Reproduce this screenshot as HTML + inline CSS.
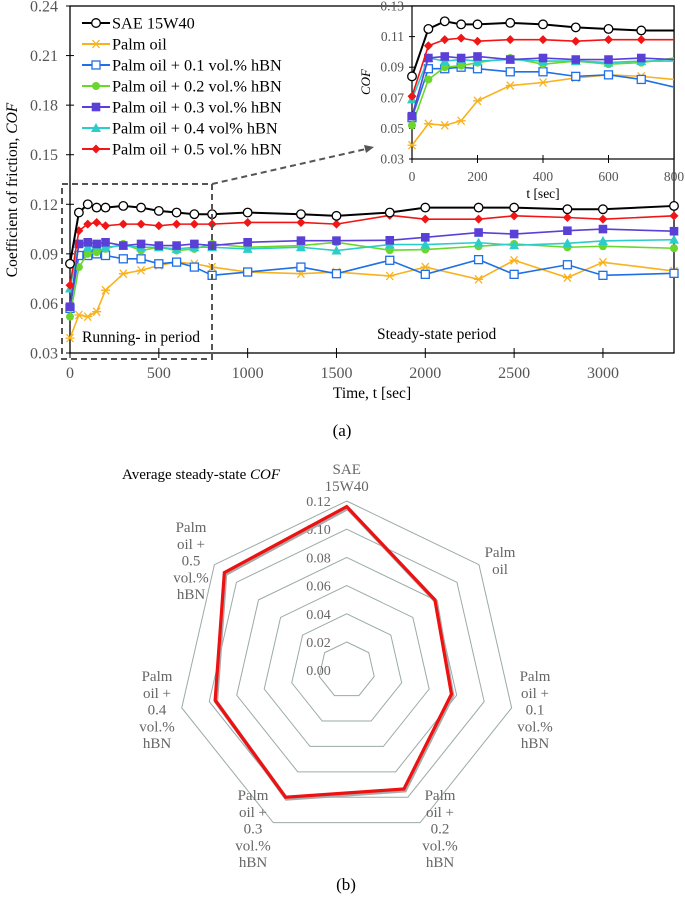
<!DOCTYPE html>
<html><head><meta charset="utf-8"><style>
body{margin:0;background:#fff;}
svg{display:block;font-family:"Liberation Serif",serif;}
</style></head><body>
<svg id="fig" width="685" height="897" viewBox="0 0 685 897"></svg>
<script>
// ---- data (a) ----
const times=[0,50,100,150,200,300,400,500,600,700,800,1000,1300,1500,1800,2000,2300,2500,2800,3000,3400];
const sae=[0.084,0.115,0.120,0.118,0.118,0.119,0.118,0.116,0.115,0.114,0.114,0.115,0.114,0.113,0.115,0.118,0.118,0.118,0.117,0.117,0.119];
const palm=[0.039,0.053,0.052,0.055,0.068,0.078,0.080,0.083,0.085,0.084,0.082,0.079,0.078,0.079,0.0766,0.082,0.0746,0.0861,0.0756,0.0849,0.0796];
const h01=[0.057,0.089,0.089,0.090,0.089,0.087,0.087,0.084,0.085,0.082,0.077,0.079,0.082,0.078,0.0861,0.0776,0.0865,0.0776,0.0834,0.077,0.0782];
const h02=[0.052,0.082,0.090,0.091,0.093,0.096,0.092,0.094,0.092,0.093,0.096,0.094,0.095,0.097,0.0922,0.0926,0.0946,0.096,0.094,0.0946,0.0934];
const h03=[0.058,0.096,0.097,0.096,0.097,0.095,0.096,0.095,0.095,0.096,0.095,0.097,0.098,0.098,0.0982,0.100,0.1029,0.102,0.104,0.105,0.1037];
const h04=[0.069,0.096,0.094,0.095,0.094,0.095,0.094,0.094,0.093,0.094,0.094,0.093,0.094,0.092,0.0956,0.0956,0.0968,0.0952,0.0964,0.0978,0.0986];
const h05=[0.071,0.104,0.108,0.109,0.107,0.108,0.108,0.107,0.108,0.108,0.108,0.109,0.109,0.108,0.1133,0.111,0.111,0.113,0.112,0.111,0.113];
const seriesNames=["SAE 15W40","Palm oil","Palm oil + 0.1 vol.% hBN","Palm oil + 0.2 vol.% hBN","Palm oil + 0.3 vol.% hBN","Palm oil + 0.4 vol% hBN","Palm oil + 0.5 vol.% hBN"];
const yTicks=[0.03,0.06,0.09,0.12,0.15,0.18,0.21,0.24];
const xTicks=[0,500,1000,1500,2000,2500,3000];
const inYTicks=[0.03,0.05,0.07,0.09,0.11,0.13];
const inXTicks=[0,200,400,600,800];
// ---- data (b) ----
const radarCats=[["SAE","15W40"],["Palm","oil"],["Palm","oil +","0.1","vol.%","hBN"],["Palm","oil +","0.2","vol.%","hBN"],["Palm","oil +","0.3","vol.%","hBN"],["Palm","oil +","0.4","vol.%","hBN"],["Palm","oil +","0.5","vol.%","hBN"]];
const radarVals=[0.116,0.080,0.0762,0.0935,0.100,0.0957,0.111];
const radarTicks=[0.00,0.02,0.04,0.06,0.08,0.10,0.12];

const NS="http://www.w3.org/2000/svg";
const svg=document.getElementById('fig');
function el(tag,attrs,parent,text){const e=document.createElementNS(NS,tag);for(const k in attrs)e.setAttribute(k,attrs[k]);if(text!==undefined)e.textContent=text;(parent||svg).appendChild(e);return e;}

const colors=["#000000","#f9b21b","#1f6fe6","#6bd62b","#5a40d6","#2ccdc8","#f21515"];
const markers=["circle","star","sqopen","dot","square","tri","diamond"];
const all=[sae,palm,h01,h02,h03,h04,h05];

function marker(g,type,x,y,c){
  let m;
  if(type==="circle") m=el('circle',{cx:x,cy:y,r:4.3,fill:'#fff',stroke:c,'stroke-width':1.3},g);
  else if(type==="dot") m=el('circle',{cx:x,cy:y,r:4,fill:c},g);
  else if(type==="sqopen") m=el('rect',{x:x-4,y:y-4,width:8,height:8,fill:'#fff',stroke:c,'stroke-width':1.3},g);
  else if(type==="square") m=el('rect',{x:x-4.3,y:y-4.3,width:8.6,height:8.6,fill:c},g);
  else if(type==="tri") m=el('path',{d:`M${x},${y-5}L${x+5},${y+4}L${x-5},${y+4}Z`,fill:c},g);
  else if(type==="diamond") m=el('path',{d:`M${x},${y-4.5}L${x+4.5},${y}L${x},${y+4.5}L${x-4.5},${y}Z`,fill:c},g);
  else if(type==="star") m=el('path',{d:`M${x-4.5},${y}H${x+4.5}M${x-3.5},${y-4}L${x+3.5},${y+4}M${x+3.5},${y-4}L${x-3.5},${y+4}`,stroke:c,'stroke-width':1.3,fill:'none'},g);
  
  
}

// ---- main chart ----
const X0=70,X1=674,Y0=353,Y1=6;
const sx=t=>X0+(t-0)/(3400-0)*(X1-X0);
const sy=v=>Y0-(v-0.03)/(0.24-0.03)*(Y0-Y1);
const main=el('g',{});
el('rect',{x:X0,y:Y1,width:X1-X0,height:Y0-Y1,fill:'none',stroke:'#000','stroke-width':1.3,},main);
const yt=el('g',{},main);
yTicks.forEach(v=>{el('line',{x1:X0-4,x2:X0+4,y1:sy(v),y2:sy(v),stroke:'#000'},yt);
  el('text',{x:X0-12,y:sy(v)+5.5,'text-anchor':'end','font-size':16,fill:'#555',},yt,v.toFixed(2));});
const xt=el('g',{},main);
xTicks.forEach(v=>{el('line',{x1:sx(v),x2:sx(v),y1:Y0-5,y2:Y0+5,stroke:'#000'},xt);
  el('text',{x:sx(v),y:378,'text-anchor':'middle','font-size':16,fill:'#555',},xt,String(v));});
el('text',{x:372,y:398,'text-anchor':'middle','font-size':15.5,fill:'#000',},main,'Time,  t [sec]');
const yTitle=el('text',{x:0,y:0,transform:'translate(17,190) rotate(-90)','text-anchor':'middle','font-size':15.5,fill:'#000',},main,'Coefficient  of friction,  ');
el('tspan',{'font-style':'italic'},yTitle,'COF');

function drawSeries(g,xs,ys,c,mk,fx,fy,maxT){
  const pts=[];xs.forEach((t,i)=>{if(t<=maxT)pts.push([fx(t),fy(ys[i])]);});
  el('polyline',{points:pts.map(p=>p.join(',')).join(' '),fill:'none',stroke:c,'stroke-width':mk==="circle"?2:1.6,},g);
  pts.forEach(p=>marker(g,mk,p[0],p[1],c));
}
const sg=el('g',{},main);
[1,2,3,5,4,6,0].forEach(i=>drawSeries(sg,times,all[i],colors[i],markers[i],sx,sy,3400));

// legend
const lg=el('g',{},main);
seriesNames.forEach((n,i)=>{const y=23+i*21;
  const e=el('g',{},lg);
  el('line',{x1:82,x2:110,y1:y,y2:y,stroke:colors[i],'stroke-width':2},e);
  marker(e,markers[i],96,y,colors[i]);
  el('text',{x:112,y:y+5.5,'font-size':16.3,fill:'#000'},e,n);});

// dashed region & arrow
el('rect',{x:62,y:184,width:150,height:175,fill:'none',stroke:'#555','stroke-width':2,'stroke-dasharray':'6,4',},main);
el('line',{x1:212,y1:184,x2:366,y2:149,stroke:'#555','stroke-width':2,'stroke-dasharray':'6,4',},main);
el('path',{d:'M374,147 L364,145 L366,153 Z',fill:'#555',},main);
el('text',{x:82,y:342,'font-size':15.5,fill:'#000',},main,'Running- in  period');
el('text',{x:377,y:339,'font-size':15.5,fill:'#000',},main,'Steady-state  period');
el('text',{x:342,y:436,'text-anchor':'middle','font-size':17,fill:'#000',},svg,'(a)');

// ---- inset ----
const IX0=412,IX1=674,IY0=159,IY1=6;
const ix=t=>IX0+t/800*(IX1-IX0);
const iy=v=>IY0-(v-0.03)/(0.13-0.03)*(IY0-IY1);
const ins=el('g',{});
el('rect',{x:IX0,y:IY1,width:IX1-IX0,height:IY0-IY1,fill:'#fff',stroke:'#000','stroke-width':1.2},ins);
const clip=el('clipPath',{id:'ic'},ins);el('rect',{x:IX0-6,y:0,width:IX1-IX0+6,height:IY0+6},clip);
inYTicks.forEach(v=>{el('line',{x1:IX0-3,x2:IX0+3,y1:iy(v),y2:iy(v),stroke:'#000'},ins);
  el('text',{x:IX0-8,y:iy(v)+4.5,'text-anchor':'end','font-size':13.5,fill:'#555',},ins,v.toFixed(2));});
inXTicks.forEach(v=>{el('line',{x1:ix(v),x2:ix(v),y1:IY0-4,y2:IY0+4,stroke:'#000'},ins);
  el('text',{x:ix(v),y:181,'text-anchor':'middle','font-size':13.5,fill:'#555',},ins,String(v));});
el('text',{x:543,y:198,'text-anchor':'middle','font-size':13.5,fill:'#000',},ins,'t [sec]');
el('text',{x:0,y:0,transform:'translate(370,82) rotate(-90)','text-anchor':'middle','font-size':13,'font-style':'italic',fill:'#000',},ins,'COF');
const ig=el('g',{'clip-path':'url(#ic)',},ins);
function drawInset(i){const c=colors[i];const ys=all[i];
  const pts=[];times.forEach((t,k)=>{if(t<=1000)pts.push([ix(t),iy(ys[k])]);});
  el('polyline',{points:pts.map(p=>p.join(',')).join(' '),fill:'none',stroke:c,'stroke-width':i===0?2:1.6,},ig);
  times.forEach((t,k)=>{if(t<800)marker(ig,markers[i],ix(t),iy(ys[k]),c);});}
[1,2,3,5,4,6,0].forEach(drawInset);

// ---- radar ----
const CX=346.7,CY=670.2,PER=28.2/0.02;
const rg=el('g',{});
const N=radarCats.length;
const ang=i=>-Math.PI/2+i*2*Math.PI/N;
const rp=(i,v)=>[CX+Math.cos(ang(i))*v*PER,CY+Math.sin(ang(i))*v*PER];
radarTicks.forEach(v=>{if(v>0){const pts=[];for(let i=0;i<N;i++)pts.push(rp(i,v).join(','));
  el('polygon',{points:pts.join(' '),fill:'none',stroke:'#9aaaa8','stroke-width':1,},rg);}});
radarTicks.forEach(v=>{el('text',{x:CX-16,y:CY-v*PER+5,'text-anchor':'end','font-size':14,fill:'#666',},rg,v.toFixed(2));});
const rpts=radarVals.map((v,i)=>rp(i,v).join(','));
el('polygon',{points:rpts.join(' '),fill:'none',stroke:'#aaa','stroke-width':4,transform:'translate(1,1.5)',},rg);
el('polygon',{points:rpts.join(' '),fill:'none',stroke:'#ee1111','stroke-width':3.2,'stroke-linejoin':'miter',},rg);
const labelPos=[[346.7,474],[500,557],[535,681],[440,800],[253,800],[157,681],[191,532]];
radarCats.forEach((lines,i)=>{const t=el('text',{'text-anchor':'middle','font-size':15,fill:'#666',},rg);
  lines.forEach((s,k)=>el('tspan',{x:labelPos[i][0],y:labelPos[i][1]+k*16.8},t,s));});
const rt=el('text',{x:122,y:479,'font-size':15,fill:'#000',},rg,'Average  steady-state ');
el('tspan',{'font-style':'italic'},rt,'COF');
el('text',{x:346,y:890,'text-anchor':'middle','font-size':17,fill:'#000',},svg,'(b)');
</script>
</body></html>
